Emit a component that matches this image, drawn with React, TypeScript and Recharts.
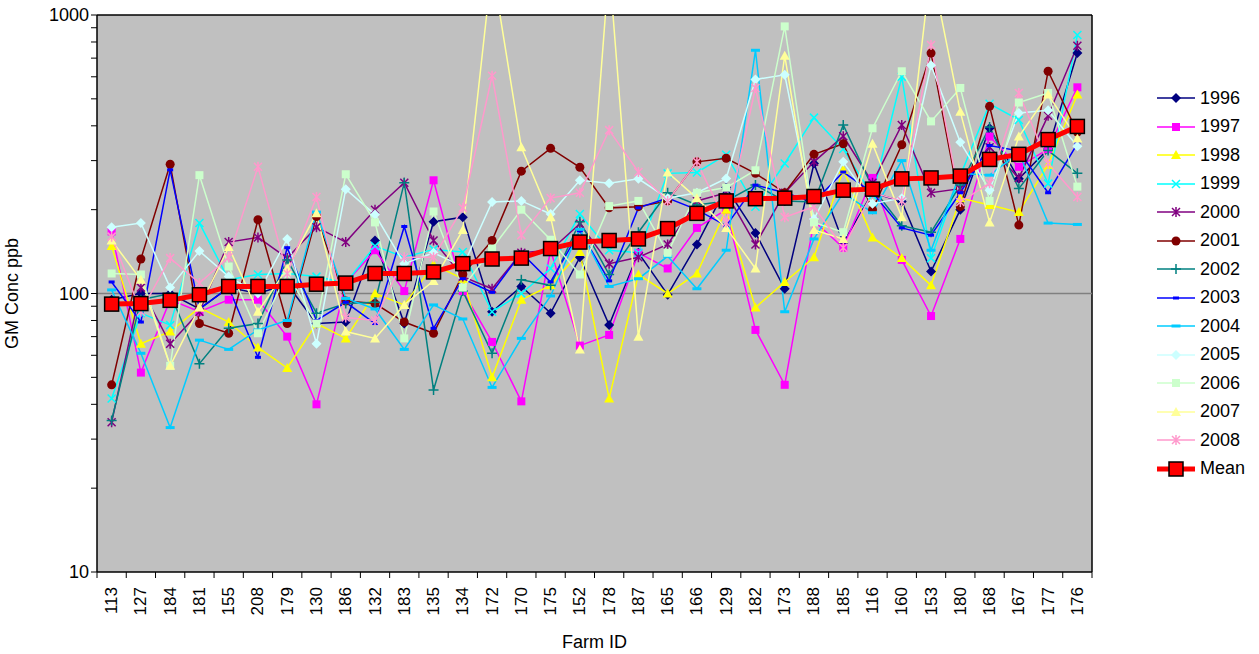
import React from 'react';
import { LineChart, Line, XAxis, YAxis, CartesianGrid, ReferenceLine, Legend } from 'recharts';

const FONT = '"Liberation Sans", Arial, sans-serif';

const farmIds = ['113', '127', '184', '181', '155', '208', '179', '130', '186', '132', '183', '135', '134', '172', '170', '175', '152',
  '178', '187', '165', '166', '129', '182', '173', '188', '185', '116', '160', '153', '180', '168', '167', '177', '176'];

const gm1996 = [95, 100, 100, 88, 105, 100, 108, 78, 79, 155, 78, 181, 188, 86, 106, 85, 135, 77, 140, 99, 150, 240, 165, 104, 293, 152, 230, 214, 120, 200, 392, 258, 330, 730];
const gm1997 = [167, 52, 95, 86, 95, 95, 70, 40, 109, 143, 102, 255, 102, 67, 41, 143, 65, 71, 140, 123, 172, 200, 74, 47, 182, 146, 260, 132, 83, 157, 366, 285, 330, 550];
const gm1998 = [148, 66, 73, 89, 79, 64, 54, 78, 69, 100, 91, 127, 113, 50, 95, 107, 141, 42, 117, 100, 118, 200, 89, 110, 135, 278, 159, 134, 107, 220, 208, 196, 290, 518];
const gm1999 = [42, 85, 77, 179, 112, 117, 118, 115, 109, 148, 135, 144, 141, 86, 100, 123, 193, 143, 140, 270, 272, 315, 205, 293, 428, 330, 225, 600, 134, 265, 480, 420, 248, 847];
const gm2000 = [34.5, 105, 66, 86, 153, 159, 134, 173, 153, 200, 250, 155, 115, 104, 140, 143, 178, 128, 135, 150, 215, 230, 150, 230, 297, 367, 250, 403, 230, 238, 335, 260, 435, 776];
const gm2001 = [47, 133, 291, 78, 72, 184, 78, 189, 94, 92, 79, 72, 117, 155, 275, 332, 284, 203, 205, 215, 297, 306, 270, 230, 316, 345, 200, 342, 730, 205, 470, 176, 628, 380];
const gm2002 = [35, 95, 100, 56, 75, 78, 132, 85, 92, 93, 250, 45, 102, 61, 112, 107, 181, 117, 166, 230, 208, 215, 245, 215, 213, 403, 240, 175, 166, 245, 396, 238, 326, 270];
const gm2003 = [110, 79, 278, 88, 105, 59, 146, 80, 93, 78, 174, 75, 113, 101, 140, 110, 168, 111, 203, 220, 200, 175, 245, 230, 213, 273, 230, 172, 162, 230, 340, 325, 230, 345];
const gm2004 = [103, 61, 33, 68, 63, 74, 80, 196, 96, 88, 63, 91, 81, 46, 69, 98, 170, 106, 113, 136, 104, 143, 747, 86, 157, 230, 195, 300, 143, 270, 266, 320, 179, 177];
const gm2005 = [173, 179, 105, 142, 115, 100, 157, 66, 237, 192, 128, 140, 125, 213, 215, 193, 255, 249, 258, 220, 230, 259, 587, 610, 185, 297, 210, 220, 660, 349, 235, 445, 455, 338];
const gm2006 = [118, 117, 55, 266, 125, 72, 118, 78, 268, 180, 69, 197, 105, 145, 200, 156, 117, 206, 215, 140, 230, 240, 277, 910, 180, 166, 392, 628, 415, 547, 215, 485, 525, 242];
const gm2007 = [155, 112, 55, 89, 147, 86, 123, 194, 73, 69, 91, 111, 169, 1500, 335, 188, 63, 1500, 70, 272, 220, 172, 123, 714, 169, 157, 345, 188, 1500, 449, 180, 366, 518, 360];
const gm2008 = [160, 86, 134, 109, 135, 285, 118, 222, 82, 80, 135, 135, 203, 605, 162, 220, 230, 386, 273, 215, 297, 180, 547, 188, 205, 146, 230, 215, 780, 213, 249, 525, 293, 222];
const gmMean = [91.6, 92, 94.5, 99, 106, 106, 106, 108, 109, 118, 118, 119.5, 128, 133, 134, 145, 153, 155, 157, 171, 194, 215, 219, 220, 223, 235, 237, 258, 260, 264, 303, 316, 357, 398];

const yTicks = [10, 20, 30, 40, 50, 60, 70, 80, 90, 100, 200, 300, 400, 500, 600, 700, 800, 900, 1000];

type Shape = 'diamond' | 'square' | 'triangle' | 'x' | 'star' | 'circle' | 'plus' | 'dash' | 'bar';

const series: { key: string; values: number[]; color: string; shape: Shape }[] = [
  { key: '1996', values: gm1996, color: '#000080', shape: 'diamond' },
  { key: '1997', values: gm1997, color: '#FF00FF', shape: 'square' },
  { key: '1998', values: gm1998, color: '#FFFF00', shape: 'triangle' },
  { key: '1999', values: gm1999, color: '#00FFFF', shape: 'x' },
  { key: '2000', values: gm2000, color: '#800080', shape: 'star' },
  { key: '2001', values: gm2001, color: '#800000', shape: 'circle' },
  { key: '2002', values: gm2002, color: '#008080', shape: 'plus' },
  { key: '2003', values: gm2003, color: '#0000FF', shape: 'dash' },
  { key: '2004', values: gm2004, color: '#00CCFF', shape: 'bar' },
  { key: '2005', values: gm2005, color: '#CCFFFF', shape: 'diamond' },
  { key: '2006', values: gm2006, color: '#CCFFCC', shape: 'square' },
  { key: '2007', values: gm2007, color: '#FFFF99', shape: 'triangle' },
  { key: '2008', values: gm2008, color: '#FF99CC', shape: 'star' },
];

const data = farmIds.map((farm, i) => {
  const row: Record<string, any> = { farm, Mean: gmMean[i] };
  series.forEach((s) => {
    row[s.key] = s.values[i];
  });
  return row;
});

// half of one category slot, so ticks sit between farms like the original
const HALF_SLOT = 14.63;

function Marker({ shape, color, x, y }: { shape: Shape; color: string; x: number; y: number }) {
  const s = 4;
  switch (shape) {
    case 'diamond':
      return <polygon points={`${x},${y - 5} ${x + 5},${y} ${x},${y + 5} ${x - 5},${y}`} fill={color} />;
    case 'square':
      return <rect x={x - s} y={y - s} width={s * 2} height={s * 2} fill={color} />;
    case 'triangle':
      return <polygon points={`${x},${y - 5} ${x + 5},${y + 4} ${x - 5},${y + 4}`} fill={color} />;
    case 'x':
      return <path d={`M${x - s},${y - s}L${x + s},${y + s}M${x - s},${y + s}L${x + s},${y - s}`} stroke={color} strokeWidth={1.5} />;
    case 'star':
      return (
        <path d={`M${x - s},${y - s}L${x + s},${y + s}M${x - s},${y + s}L${x + s},${y - s}M${x},${y - 5}L${x},${y + 5}`} stroke={color} strokeWidth={1.5} />
      );
    case 'circle':
      return <circle cx={x} cy={y} r={4.5} fill={color} />;
    case 'plus':
      return <path d={`M${x - 5},${y}L${x + 5},${y}M${x},${y - 5}L${x},${y + 5}`} stroke={color} strokeWidth={1.5} />;
    case 'dash':
      return <rect x={x - 3} y={y - 1.5} width={6} height={3} fill={color} />;
    case 'bar':
      return <rect x={x - 4.5} y={y - 1.5} width={9} height={3} fill={color} />;
    default:
      return null;
  }
}

const makeDot = (shape: Shape, color: string) => (props: any) => {
  const { cx, cy, index } = props;
  if (cx == null || cy == null) return <g key={index} />;
  return (
    <g key={index}>
      <Marker shape={shape} color={color} x={cx} y={cy} />
    </g>
  );
};

const meanDot = (props: any) => {
  const { cx, cy, index } = props;
  return <rect key={index} x={cx - 7} y={cy - 7} width={14} height={14} fill="#FF0000" stroke="#000" strokeWidth={1.5} />;
};

function FarmTick(props: any) {
  const { x, y, payload, index } = props;
  const axisY = y - 8;
  return (
    <g>
      <line x1={x - HALF_SLOT} y1={axisY} x2={x - HALF_SLOT} y2={axisY + 6} stroke="#000" />
      {index === farmIds.length - 1 && <line x1={x + HALF_SLOT} y1={axisY} x2={x + HALF_SLOT} y2={axisY + 6} stroke="#000" />}
      <text
        x={x}
        y={y + 7}
        transform={`rotate(-90, ${x}, ${y + 7})`}
        textAnchor="end"
        dominantBaseline="central"
        fontSize={17}
        fontFamily={FONT}
        fill="#000"
      >
        {payload.value}
      </text>
    </g>
  );
}

function LegendBox() {
  return (
    <div style={{ fontFamily: FONT, fontSize: 18, color: '#000' }}>
      {series.map((s) => (
        <div key={s.key} style={{ display: 'flex', alignItems: 'center', height: 28.5 }}>
          <svg width={42} height={20} style={{ marginRight: 2 }}>
            <line x1={1} y1={10} x2={39} y2={10} stroke={s.color} strokeWidth={1.5} />
            <Marker shape={s.shape} color={s.color} x={20} y={10} />
          </svg>
          <span>{s.key}</span>
        </div>
      ))}
      <div style={{ display: 'flex', alignItems: 'center', height: 28.5 }}>
        <svg width={42} height={20} style={{ marginRight: 2 }}>
          <line x1={1} y1={10} x2={39} y2={10} stroke="#FF0000" strokeWidth={5} />
          <rect x={13} y={3} width={14} height={14} fill="#FF0000" stroke="#000" strokeWidth={1.5} />
        </svg>
        <span>Mean</span>
      </div>
    </div>
  );
}

export default function App() {
  return (
    <div style={{ position: 'absolute', left: 0, top: 0, background: '#fff' }}>
      <LineChart width={1259} height={654} data={data} margin={{ top: 15, right: 167, left: 0, bottom: 0 }}>
        <CartesianGrid fill="#C0C0C0" horizontal={false} vertical={false} />
        <CartesianGrid
          stroke="#000"
          strokeWidth={1.5}
          horizontalCoordinatesGenerator={({ offset }: any) => [offset.top]}
          verticalCoordinatesGenerator={({ offset }: any) => [offset.left + offset.width]}
        />
        <XAxis
          dataKey="farm"
          height={82}
          interval={0}
          padding={{ left: HALF_SLOT, right: HALF_SLOT }}
          tickLine={false}
          tickSize={6}
          axisLine={{ stroke: '#000', strokeWidth: 1.5 }}
          tick={<FarmTick />}
          label={{ value: 'Farm ID', position: 'insideBottom', offset: 6, fontSize: 18, fontFamily: FONT, fill: '#000' }}
        />
        <YAxis
          scale="log"
          domain={[10, 1000]}
          allowDataOverflow
          ticks={yTicks}
          interval={0}
          width={97}
          tickSize={6}
          tickLine={{ stroke: '#000' }}
          axisLine={{ stroke: '#000', strokeWidth: 1.5 }}
          tickFormatter={(v: number) => (v === 10 || v === 100 || v === 1000 ? String(v) : '')}
          tick={{ fontSize: 18, fontFamily: FONT, fill: '#000' }}
          label={{ value: 'GM Conc ppb', angle: -90, position: 'insideLeft', offset: 12, fontSize: 18, fontFamily: FONT, fill: '#000', style: { textAnchor: 'middle' } }}
        />
        <ReferenceLine y={100} stroke="#808080" strokeWidth={1.5} />
        {series.map((s) => (
          <Line
            key={s.key}
            dataKey={s.key}
            stroke={s.color}
            strokeWidth={1.5}
            dot={makeDot(s.shape, s.color)}
            activeDot={false}
            isAnimationActive={false}
          />
        ))}
        <Line dataKey="Mean" stroke="#FF0000" strokeWidth={5} dot={meanDot} activeDot={false} isAnimationActive={false} />
        <Legend
          layout="vertical"
          align="center"
          verticalAlign="middle"
          content={() => <LegendBox />}
          wrapperStyle={{ left: 1156, top: 84, width: 100 }}
        />
      </LineChart>
    </div>
  );
}
